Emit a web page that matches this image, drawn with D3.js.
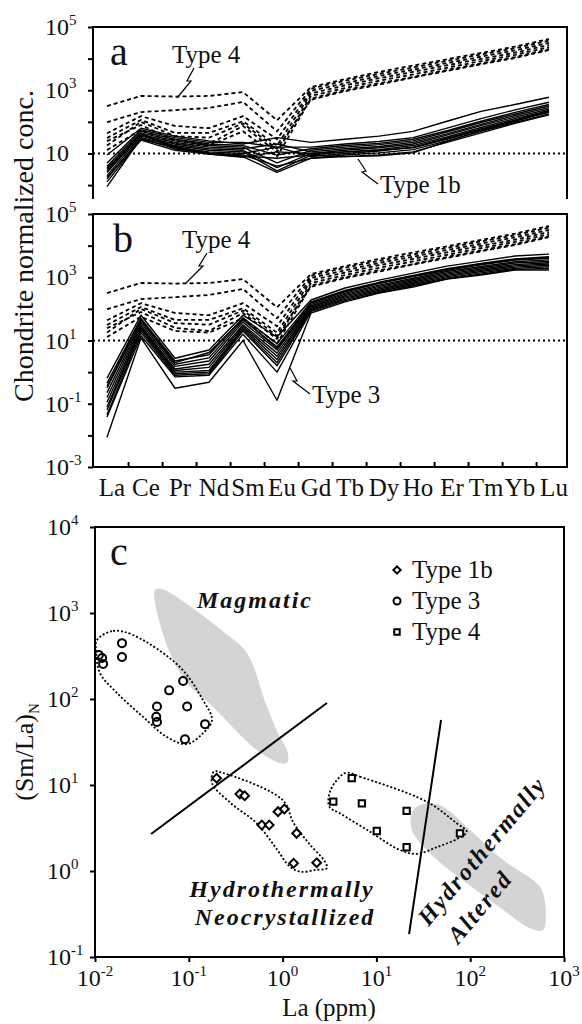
<!DOCTYPE html>
<html>
<head>
<meta charset="utf-8">
<script src="https://cdn.jsdelivr.net/npm/d3@7"></script>
<style>
  body { margin: 0; background: #fff; }
  svg text { font-family: "Liberation Serif", "Times New Roman", Times, serif; fill: #111; }
</style>
</head>
<body>
<svg id="chart" width="582" height="1024"></svg>
<script>
// REE elements on the x axis of panels a and b
const ree = ["La","Ce","Pr","Nd","Sm","Eu","Gd","Tb","Dy","Ho","Er","Tm","Yb","Lu"];

// chondrite normalized values, stored as log10, one row per sample
const type4Log = [
  [2.50, 2.82, 2.80, 2.82, 2.94, 2.05, 3.10, 3.35, 3.58, 3.78, 3.98, 4.18, 4.38, 4.62],
  [1.99, 2.31, 2.37, 2.44, 2.63, 1.70, 3.05, 3.30, 3.52, 3.72, 3.93, 4.13, 4.33, 4.57],
  [1.64, 2.18, 1.87, 1.80, 2.18, 1.45, 2.98, 3.22, 3.45, 3.65, 3.86, 4.06, 4.26, 4.50],
  [1.49, 2.06, 1.65, 1.65, 2.02, 1.25, 2.90, 3.15, 3.38, 3.58, 3.79, 3.99, 4.19, 4.43],
  [1.39, 1.90, 1.40, 1.30, 1.87, 1.05, 2.82, 3.07, 3.30, 3.50, 3.71, 3.92, 4.12, 4.36],
  [1.25, 2.00, 1.55, 1.50, 1.95, 1.15, 2.70, 2.97, 3.18, 3.40, 3.61, 3.82, 4.02, 4.27],
  [1.11, 1.75, 1.30, 1.25, 1.70, 0.90, 2.74, 3.00, 3.22, 3.42, 3.64, 3.85, 4.05, 4.30]
];

const type1bLog = [
  [0.95, 1.80, 1.55, 1.40, 1.30, 1.50, 1.35, 1.45, 1.55, 1.70, 2.02, 2.33, 2.55, 2.78],
  [0.70, 1.75, 1.50, 1.35, 1.35, 1.20, 1.20, 1.30, 1.38, 1.50, 1.80, 2.10, 2.38, 2.62],
  [0.60, 1.70, 1.45, 1.30, 1.25, 0.95, 1.15, 1.25, 1.32, 1.45, 1.72, 2.02, 2.30, 2.55],
  [0.50, 1.65, 1.40, 1.25, 1.20, 0.70, 1.10, 1.20, 1.28, 1.40, 1.68, 1.98, 2.25, 2.50],
  [0.40, 1.60, 1.35, 1.20, 1.15, 1.30, 1.05, 1.15, 1.22, 1.35, 1.62, 1.92, 2.20, 2.45],
  [0.30, 1.55, 1.30, 1.15, 1.10, 0.55, 1.00, 1.10, 1.18, 1.30, 1.58, 1.88, 2.15, 2.40],
  [0.20, 1.50, 1.25, 1.10, 1.05, 0.45, 0.95, 1.05, 1.12, 1.25, 1.52, 1.82, 2.10, 2.35],
  [0.10, 1.45, 1.20, 1.05, 1.00, 1.20, 0.90, 1.00, 1.08, 1.20, 1.48, 1.78, 2.05, 2.30],
  [-0.05, 1.48, 1.15, 1.00, 0.95, 0.60, 0.85, 0.95, 1.02, 1.12, 1.40, 1.70, 1.98, 2.25],
  [0.45, 1.60, 1.18, 0.98, 0.90, 0.40, 0.85, 0.90, 0.95, 1.05, 1.35, 1.65, 1.95, 2.22],
  [0.55, 1.62, 1.22, 1.02, 0.92, 0.85, 0.95, 0.90, 0.93, 1.02, 1.38, 1.72, 2.02, 2.32],
  [0.25, 1.42, 1.10, 0.98, 0.88, 1.05, 1.00, 1.05, 1.10, 1.18, 1.45, 1.75, 2.05, 2.35]
];

const type3Log = [
  [-0.19, 1.80, 0.44, 0.70, 1.80, 1.11, 2.28, 2.66, 2.91, 3.13, 3.35, 3.51, 3.67, 3.73],
  [-0.35, 1.70, 0.35, 0.55, 1.72, 0.90, 2.22, 2.58, 2.84, 3.06, 3.27, 3.44, 3.58, 3.65],
  [-0.45, 1.65, 0.30, 0.62, 1.68, 0.75, 2.20, 2.56, 2.82, 3.04, 3.25, 3.42, 3.56, 3.62],
  [-0.50, 1.62, 0.25, 0.45, 1.65, 0.80, 2.18, 2.54, 2.80, 3.02, 3.22, 3.39, 3.54, 3.60],
  [-0.65, 1.55, 0.18, 0.35, 1.58, 0.70, 2.14, 2.50, 2.75, 2.97, 3.18, 3.34, 3.49, 3.55],
  [-0.80, 1.48, 0.10, 0.25, 1.50, 0.60, 2.10, 2.46, 2.71, 2.93, 3.14, 3.30, 3.45, 3.50],
  [-0.95, 1.42, 0.05, 0.15, 1.45, 0.50, 2.06, 2.42, 2.67, 2.89, 3.10, 3.26, 3.40, 3.46],
  [-1.10, 1.38, 0.00, 0.05, 1.40, 0.40, 2.02, 2.38, 2.63, 2.85, 3.06, 3.22, 3.36, 3.42],
  [-1.20, 1.32, -0.05, 0.00, 1.35, 0.30, 1.98, 2.34, 2.59, 2.81, 3.02, 3.18, 3.32, 3.38],
  [-1.35, 1.25, -0.10, -0.05, 1.30, 0.20, 1.95, 2.30, 2.55, 2.77, 2.98, 3.14, 3.28, 3.33],
  [-1.42, 1.15, -0.15, -0.10, 1.20, 0.00, 1.92, 2.26, 2.51, 2.73, 2.95, 3.10, 3.25, 3.28],
  [-2.06, 1.08, -0.51, -0.32, 1.00, -0.89, 1.87, 2.22, 2.50, 2.69, 2.94, 3.07, 3.23, 3.23]
];

// panel c scatter: La (ppm) vs (Sm/La)N
const type1bLa   = [0.198, 0.35, 0.394, 0.60, 0.72, 0.893, 1.045, 1.41, 1.31, 2.31];
const type1bSmLa = [12.0, 7.85, 7.5, 3.43, 3.43, 4.9, 5.25, 2.74, 1.23, 1.25];
const type3La    = [0.011, 0.0119, 0.0122, 0.0194, 0.0194, 0.0458, 0.045, 0.0458, 0.0617, 0.087, 0.096, 0.091, 0.149];
const type3SmLa  = [325, 300, 256, 446, 308, 82, 62, 54, 126, 162, 82, 34, 51];
const type4La    = [5.46, 3.47, 7.0, 21.0, 10.1, 21.0, 77.8];
const type4SmLa  = [12.0, 6.4, 6.1, 5.0, 2.92, 1.89, 2.74];

// outlines in panel c, [La, (Sm/La)N]
const magmaticField = [[0.0437,1850],[0.0518,1900],[0.275,526],[0.417,343],[0.682,81],[0.893,40],[1.14,23.5],
  [1.11,18],[0.87,18.5],[0.483,27.7],[0.181,81],[0.0957,153],[0.063,343],[0.0437,1306]];
const alteredField = [[23.8,4.69],[26.9,5.6],[37.3,6.12],[51.6,5.6],[99.5,3.0],[225,1.34],[512,0.72],[601,0.55],
  [627,0.225],[578,0.202],[434,0.216],[225,0.352],[91.8,0.72],[40.4,1.47],[24.7,2.74],[23.2,3.59]];
const type3Hull = [[0.0105,485],[0.0156,618],[0.0254,555],[0.0805,235],[0.1416,97],[0.1766,57],[0.1416,40],
  [0.0957,30],[0.0586,36],[0.0325,62],[0.0172,117],[0.0113,200],[0.0103,343]];
const type1bHull = [[0.185,14.3],[0.232,13.8],[1.0,6.7],[1.31,3.61],[1.89,2.12],[2.83,1.28],[2.97,1.08],[2.27,1.03],
  [1.57,0.98],[1.2,1.12],[0.83,1.92],[0.527,3.61],[0.279,6.18],[0.177,10.5]];
const type4Hull = [[4.82,13.9],[6.68,12.5],[34.4,6.4],[71.8,3.59],[91.8,2.87],[74.7,2.4],[44,1.89],[26.9,1.58],
  [17.9,1.75],[8.55,2.86],[4.09,4.69],[3.15,5.6],[3.2,8.36],[4.09,12.5]];
const boundary1 = [[0.0396,2.69],[2.97,89.8]];
const boundary2 = [[22.3,0.185],[48.9,57]];

const legendTypes = ["Type 1b", "Type 3", "Type 4"];

const svg = d3.select("#chart");
svg.append("rect").attr("width", 582).attr("height", 1024).attr("fill", "#fff");

// helper: "10" with a superscript exponent
function powText(t, exp) {
  t.append("tspan").text("10");
  if (exp !== null) t.append("tspan").attr("dy", -10).attr("font-size", 15).text(exp);
}

// ---------- panels a and b ----------
const x = d3.scaleLinear().domain([0, 13]).range([107, 549]);
const yA = d3.scaleLog().domain([Math.pow(10, -0.44), 1e5]).range([199, 27]);
const yB = d3.scaleLog().domain([1e-3, 1e5]).range([467, 214]);

function reeLine(y) {
  return d3.line().x((d, i) => x(i)).y(d => y(Math.pow(10, d)));
}

function drawSeries(g, y, rows, dashed) {
  g.selectAll(null).data(rows).enter().append("path")
    .attr("d", reeLine(y))
    .attr("fill", "none")
    .attr("stroke", "#000")
    .attr("stroke-width", dashed ? 1.8 : 1.4)
    .attr("stroke-dasharray", dashed ? "4,3" : null)
    .attr("stroke-linejoin", "round");
}

// panel a
const gA = svg.append("g");
gA.append("line").attr("x1", 93).attr("x2", 567).attr("y1", yA(10)).attr("y2", yA(10))
  .attr("stroke", "#000").attr("stroke-width", 2).attr("stroke-dasharray", "2,3");
drawSeries(gA, yA, type1bLog, false);
drawSeries(gA, yA, type4Log, true);
gA.append("path").attr("d", "M93,199V27H567V199").attr("fill", "none").attr("stroke", "#000").attr("stroke-width", 2);
gA.append("g").attr("transform", "translate(93,0)")
  .call(d3.axisLeft(yA).tickValues([1, 10, 100, 1e3, 1e4, 1e5]).tickSize(5).tickSizeOuter(0).tickFormat(""))
  .call(a => a.select(".domain").remove())
  .call(a => a.selectAll("line").attr("stroke-width", 2));
[[1e5, "5"], [1e3, "3"], [10, null]].forEach(([v, e]) => {
  gA.append("text").attr("x", 45).attr("y", yA(v) + 8).attr("font-size", 24).call(t => powText(t, e));
});
gA.append("text").attr("x", 110).attr("y", 65).attr("font-size", 40).text("a");
gA.append("text").attr("x", 172).attr("y", 63).attr("font-size", 25).text("Type 4");
gA.append("path").attr("d", "M194,68L187,81L191,81L177,98").attr("fill", "none").attr("stroke", "#000").attr("stroke-width", 1.2);
gA.append("text").attr("x", 380).attr("y", 193).attr("font-size", 25).text("Type 1b");
gA.append("path").attr("d", "M358,159L366,171L362,172L378,184").attr("fill", "none").attr("stroke", "#000").attr("stroke-width", 1.2);

// panel b
const gB = svg.append("g");
gB.append("line").attr("x1", 93).attr("x2", 567).attr("y1", yB(10)).attr("y2", yB(10))
  .attr("stroke", "#000").attr("stroke-width", 2).attr("stroke-dasharray", "2,3");
drawSeries(gB, yB, type3Log, false);
drawSeries(gB, yB, type4Log, true);
gB.append("rect").attr("x", 93).attr("y", 214).attr("width", 474).attr("height", 253)
  .attr("fill", "none").attr("stroke", "#000").attr("stroke-width", 2);
gB.append("g").attr("transform", "translate(93,0)")
  .call(d3.axisLeft(yB).tickValues([1e-3, 1e-2, 0.1, 1, 10, 100, 1e3, 1e4, 1e5]).tickSize(5).tickSizeOuter(0).tickFormat(""))
  .call(a => a.select(".domain").remove())
  .call(a => a.selectAll("line").attr("stroke-width", 2));
gB.append("g").attr("transform", "translate(0,467)")
  .call(d3.axisBottom(x).tickValues(d3.range(13).map(i => i + 0.62)).tickSize(-5).tickSizeOuter(0).tickFormat(""))
  .call(a => a.select(".domain").remove())
  .call(a => a.selectAll("line").attr("stroke-width", 2));
[[1e5, "5"], [1e3, "3"], [10, "1"], [0.1, "-1"], [1e-3, "-3"]].forEach(([v, e]) => {
  gB.append("text").attr("x", 45).attr("y", yB(v) + 8).attr("font-size", 24).call(t => powText(t, e));
});
gB.selectAll(".ree").data(ree).enter().append("text")
  .attr("x", (d, i) => x(i) + 5).attr("y", 496).attr("font-size", 25)
  .attr("text-anchor", "middle").text(d => d);
gB.append("text").attr("x", 113).attr("y", 252).attr("font-size", 40).text("b");
gB.append("text").attr("x", 182).attr("y", 248).attr("font-size", 25).text("Type 4");
gB.append("path").attr("d", "M207,253L199,266L203,266L186,283").attr("fill", "none").attr("stroke", "#000").attr("stroke-width", 1.2);
gB.append("text").attr("x", 312).attr("y", 403).attr("font-size", 25).text("Type 3");
gB.append("path").attr("d", "M290,368L297,381L293,381L310,394").attr("fill", "none").attr("stroke", "#000").attr("stroke-width", 1.2);

svg.append("text").attr("transform", "translate(33,246) rotate(-90)")
  .attr("text-anchor", "middle").attr("font-size", 28).text("Chondrite normalized conc.");

// ---------- panel c ----------
const xc = d3.scaleLog().domain([1e-2, 1e3]).range([95, 564]);
const yc = d3.scaleLog().domain([1e-1, 1e4]).range([957, 527]);
const gC = svg.append("g");

const closed = d3.line().x(d => xc(d[0])).y(d => yc(d[1])).curve(d3.curveCatmullRomClosed.alpha(0.5));
const straight = d3.line().x(d => xc(d[0])).y(d => yc(d[1]));

gC.append("path").attr("d", closed(magmaticField)).attr("fill", "#d4d4d4");
gC.append("path").attr("d", closed(alteredField)).attr("fill", "#d4d4d4");
[type3Hull, type1bHull, type4Hull].forEach(h => {
  gC.append("path").attr("d", closed(h)).attr("fill", "none").attr("stroke", "#000")
    .attr("stroke-width", 1.8).attr("stroke-dasharray", "2,2");
});
[boundary1, boundary2].forEach(b => {
  gC.append("path").attr("d", straight(b)).attr("stroke", "#000").attr("stroke-width", 2);
});

const diamond = d3.symbol(d3.symbolSquare, 38);
const square = d3.symbol(d3.symbolSquare, 40);

gC.selectAll(".t1b").data(type1bLa).enter().append("path")
  .attr("d", diamond)
  .attr("transform", (d, i) => `translate(${xc(d)},${yc(type1bSmLa[i])}) rotate(45)`)
  .attr("fill", "#fff").attr("stroke", "#000").attr("stroke-width", 2);
gC.selectAll(".t3").data(type3La).enter().append("circle")
  .attr("cx", d => xc(d)).attr("cy", (d, i) => yc(type3SmLa[i])).attr("r", 4)
  .attr("fill", "none").attr("stroke", "#000").attr("stroke-width", 2);
gC.selectAll(".t4").data(type4La).enter().append("path")
  .attr("d", square)
  .attr("transform", (d, i) => `translate(${xc(d)},${yc(type4SmLa[i])})`)
  .attr("fill", "#fff").attr("stroke", "#000").attr("stroke-width", 2);

gC.append("rect").attr("x", 95).attr("y", 527).attr("width", 469).attr("height", 430)
  .attr("fill", "none").attr("stroke", "#000").attr("stroke-width", 2);
gC.append("g").attr("transform", "translate(95,0)")
  .call(d3.axisLeft(yc).tickValues([0.1, 1, 10, 100, 1e3, 1e4]).tickSize(5).tickSizeOuter(0).tickFormat(""))
  .call(a => a.select(".domain").remove())
  .call(a => a.selectAll("line").attr("stroke-width", 2));
gC.append("g").attr("transform", "translate(0,957)")
  .call(d3.axisBottom(xc).tickValues([1e-2, 0.1, 1, 10, 100, 1e3]).tickSize(5).tickSizeOuter(0).tickFormat(""))
  .call(a => a.select(".domain").remove())
  .call(a => a.selectAll("line").attr("stroke-width", 2));
[[1e4, "4"], [1e3, "3"], [100, "2"], [10, "1"], [1, "0"], [0.1, "-1"]].forEach(([v, e]) => {
  gC.append("text").attr("x", 47).attr("y", yc(v) + 8).attr("font-size", 24).call(t => powText(t, e));
});
[[1e-2, "-2"], [0.1, "-1"], [1, "0"], [10, "1"], [100, "2"], [1e3, "3"]].forEach(([v, e]) => {
  gC.append("text").attr("x", xc(v)).attr("y", 986).attr("font-size", 24)
    .attr("text-anchor", "middle").call(t => powText(t, e));
});

gC.append("text").attr("x", 110).attr("y", 565).attr("font-size", 40).text("c");

const bi = t => t.attr("font-weight", "bold").attr("font-style", "italic").attr("font-size", 24).attr("letter-spacing", 2);
gC.append("text").attr("x", 197).attr("y", 608).call(bi).text("Magmatic");
gC.append("text").attr("x", 282).attr("y", 897).attr("text-anchor", "middle").call(bi).text("Hydrothermally");
gC.append("text").attr("x", 285).attr("y", 925).attr("text-anchor", "middle").call(bi).text("Neocrystallized");
gC.append("text").attr("transform", "translate(488,856) rotate(-50)").attr("text-anchor", "middle").call(bi).text("Hydrothermally");
gC.append("text").attr("transform", "translate(486,912) rotate(-50)").attr("text-anchor", "middle").call(bi).text("Altered");

// legend
const lg = gC.append("g");
legendTypes.forEach((name, i) => {
  const cy = 570 + i * 31;
  if (i === 0) lg.append("path").attr("d", d3.symbol(d3.symbolSquare, 26)).attr("transform", `translate(397,${cy}) rotate(45)`)
    .attr("fill", "#fff").attr("stroke", "#000").attr("stroke-width", 2);
  if (i === 1) lg.append("circle").attr("cx", 397).attr("cy", cy).attr("r", 3.5)
    .attr("fill", "#fff").attr("stroke", "#000").attr("stroke-width", 2);
  if (i === 2) lg.append("path").attr("d", d3.symbol(d3.symbolSquare, 30)).attr("transform", `translate(397,${cy})`)
    .attr("fill", "#fff").attr("stroke", "#000").attr("stroke-width", 2);
  lg.append("text").attr("x", 412).attr("y", cy + 8).attr("font-size", 25).text(name);
});

svg.append("text").attr("x", 329).attr("y", 1016).attr("text-anchor", "middle").attr("font-size", 25).text("La (ppm)");
const yl = svg.append("text").attr("transform", "translate(33,752) rotate(-90)").attr("text-anchor", "middle").attr("font-size", 26);
yl.append("tspan").text("(Sm/La)");
yl.append("tspan").attr("dy", 6).attr("font-size", 15).text("N");
</script>
</body>
</html>
